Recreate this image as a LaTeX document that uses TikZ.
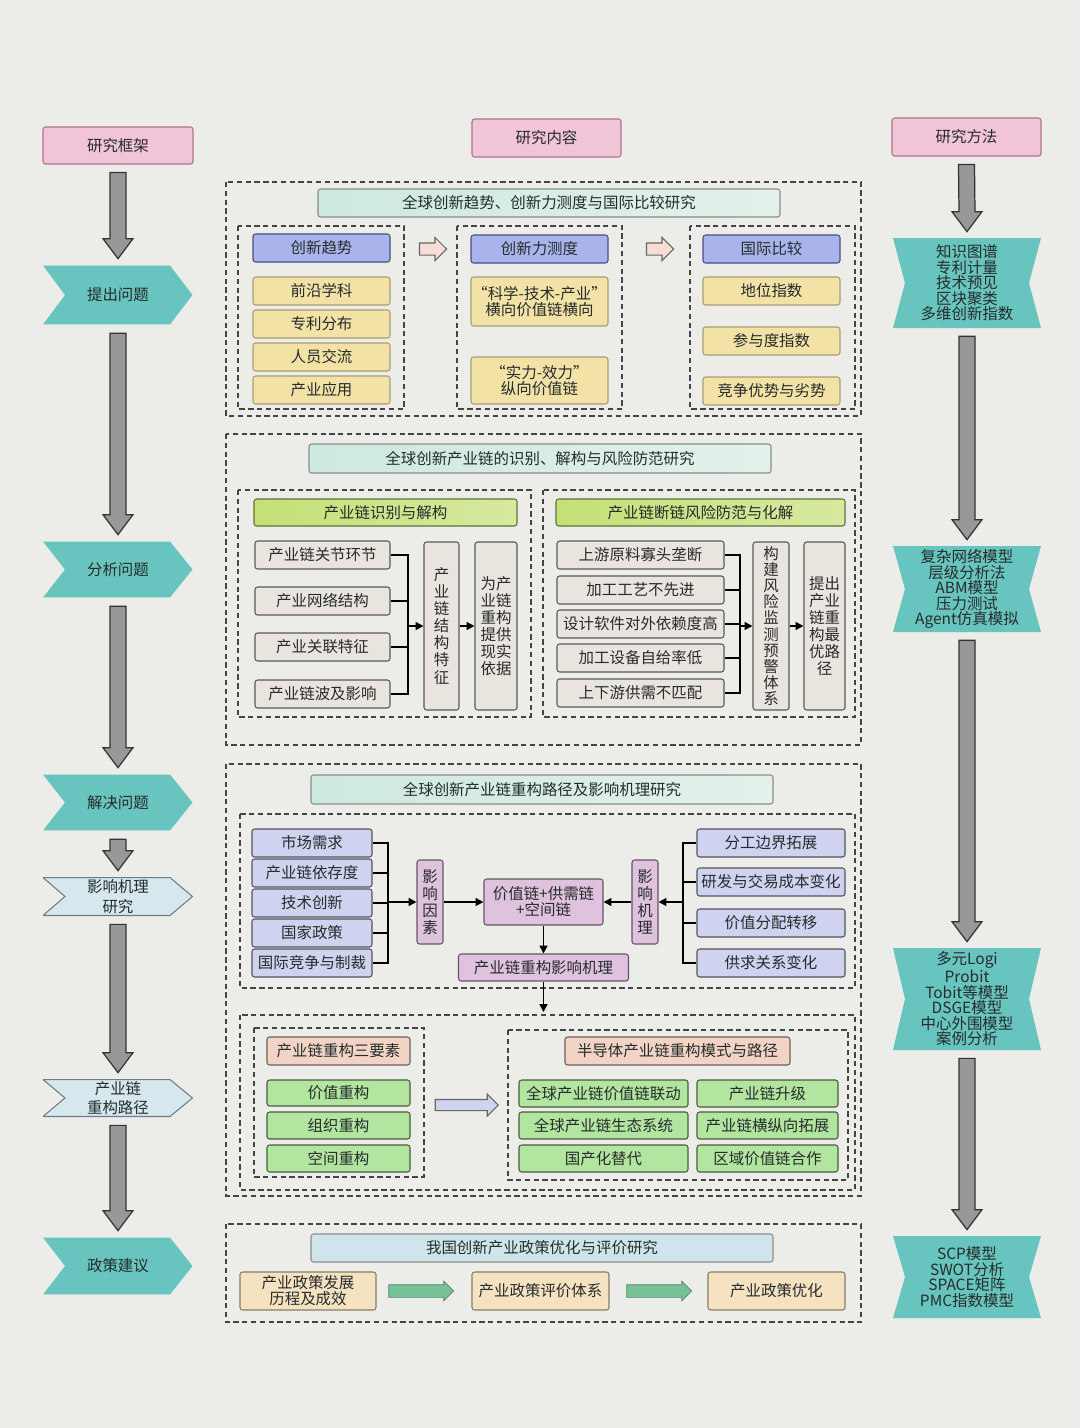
\documentclass[tikz,border=0pt]{standalone}
\usepackage{fontspec}
\setmainfont{Noto Sans CJK SC}
\usetikzlibrary{calc,shapes.arrows,arrows.meta}
\definecolor{bgc}{RGB}{236,236,232}
\definecolor{txtc}{RGB}{38,44,44}
\definecolor{pinkc}{RGB}{241,196,216}
\definecolor{pinkd}{RGB}{175,115,140}
\definecolor{tealc}{RGB}{104,196,190}
\definecolor{ltbluec}{RGB}{214,231,238}
\definecolor{ltblued}{RGB}{110,125,135}
\definecolor{arrowc}{RGB}{152,152,152}
\definecolor{titlel}{RGB}{204,233,224}
\definecolor{titler}{RGB}{228,241,235}
\definecolor{polc}{RGB}{206,229,236}
\definecolor{headc}{RGB}{170,180,236}
\definecolor{yelc}{RGB}{242,226,166}
\definecolor{greenl}{RGB}{196,224,118}
\definecolor{greenr}{RGB}{214,234,160}
\definecolor{grayic}{RGB}{234,228,222}
\definecolor{lavc}{RGB}{207,211,240}
\definecolor{mauvec}{RGB}{222,194,222}
\definecolor{grnc}{RGB}{178,229,160}
\definecolor{salmc}{RGB}{241,212,198}
\definecolor{beigec}{RGB}{245,226,192}
\definecolor{garc}{RGB}{118,194,150}
\definecolor{hollc}{RGB}{246,222,214}
\definecolor{dashc}{RGB}{68,68,68}
% grey block arrow from one node down to the next
\newcommand\grayarrow[2]{%
  \draw[garrow] ($(#1.south)+(-8,8)$) -- ($(#2.north)+(-8,-26)$) -- ++(-7,0)
    -- ($(#2.north)+(0,-6)$) -- ($(#2.north)+(15,-26)$) -- ++(-7,0)
    -- ($(#1.south)+(8,8)$) -- cycle;}
\begin{document}
\begin{tikzpicture}[x=0.02cm,y=-0.02cm,
  font=\fontsize{8.8}{9.2}\selectfont, text=txtc,
  sz/.style 2 args={minimum width=#1*0.02cm, minimum height=#2*0.02cm},
  box/.style={rectangle, rounded corners=1.5pt, inner sep=0pt, align=center, line width=0.6pt},
  pinkbox/.style={box, fill=pinkc, draw=pinkd},
  titlebar/.style={box, left color=titlel, right color=titler, draw=black!45, sz={462}{28}},
  bluehead/.style={box, fill=headc, draw=blue!30!black!70, sz={137}{28}},
  ybox/.style={box, fill=yelc, draw=yelc!70!black},
  greenhead/.style={box, left color=greenl, right color=greenr, draw=greenl!50!black},
  gbox/.style={box, fill=grayic, draw=black!65},
  lbox/.style={box, fill=lavc, draw=lavc!40!black},
  mauvebox/.style={box, fill=mauvec, draw=mauvec!45!black},
  grnbox/.style={box, fill=grnc, draw=grnc!40!black},
  salmbox/.style={box, fill=salmc, draw=salmc!45!black},
  beigebox/.style={box, fill=beigec, draw=beigec!55!black},
  vtext/.style={font=\fontsize{8.8}{9.7}\selectfont},
  dbox/.style={draw=dashc, line width=0.8pt, dash pattern=on 3pt off 2pt},
  garrow/.style={fill=arrowc, draw=black!80, line width=0.7pt},
  bk/.style={draw=black, line width=0.9pt},
  bka/.style={bk, -{Triangle[length=4.5pt,width=4.5pt]}},
  chev/.style={inner sep=0pt, align=center, path picture={
    \path[#1] ([yshift=-0.3pt]path picture bounding box.north west)
      -- ([xshift=-0.46cm,yshift=-0.3pt]path picture bounding box.north east)
      -- ([xshift=-0.3pt]path picture bounding box.east)
      -- ([xshift=-0.46cm,yshift=0.3pt]path picture bounding box.south east)
      -- ([yshift=0.3pt]path picture bounding box.south west)
      -- ([xshift=0.44cm]path picture bounding box.west) -- cycle;}},
  mbox/.style={inner sep=0pt, align=center, font=\fontsize{8.8}{8.8}\selectfont,
    path picture={
    \fill[tealc] (path picture bounding box.north west)
      -- (path picture bounding box.north east)
      -- ([xshift=-0.24cm]path picture bounding box.east)
      -- (path picture bounding box.south east)
      -- (path picture bounding box.south west)
      -- ([xshift=0.24cm]path picture bounding box.west) -- cycle;}},
  harrow/.style={single arrow, fill=hollc, draw=black!60, line width=0.6pt,
    inner sep=0.11cm, single arrow head extend=0.11cm, minimum height=0.54cm},
  larrow/.style={single arrow, fill=lavc, draw=black!60, line width=0.6pt,
    inner sep=0.1cm, single arrow head extend=0.11cm, minimum height=1.26cm},
  gnarrow/.style={single arrow, fill=garc, draw=garc!70!black, line width=0.4pt,
    inner sep=0.12cm, single arrow head extend=0.07cm, minimum height=1.3cm}]

\fill[bgc] (0,0) rectangle (1080,1428);

% left column
\node[pinkbox, sz={150}{37}] (kj) at (118,145.5) {研究框架};
\node[chev={fill=tealc}, sz={150}{60}] (tc) at (118,295) {提出问题};
\node[chev={fill=tealc}, sz={150}{57}] (fx) at (118,569.5) {分析问题};
\node[chev={fill=tealc}, sz={150}{57}] (jj) at (118,802.5) {解决问题};
\node[chev={fill=ltbluec,draw=ltblued,line width=0.6pt}, sz={150}{39},
  font=\fontsize{8.8}{11}\selectfont] (yj) at (118,896.5) {影响机理\\研究};
\node[chev={fill=ltbluec,draw=ltblued,line width=0.6pt}, sz={150}{38},
  font=\fontsize{8.8}{11}\selectfont] (cl) at (118,1098) {产业链\\重构路径};
\node[chev={fill=tealc}, sz={150}{58}] (zj) at (118,1266) {政策建议};
\grayarrow{kj}{tc}
\grayarrow{tc}{fx}
\grayarrow{fx}{jj}
\grayarrow{jj}{yj}
\grayarrow{yj}{cl}
\grayarrow{cl}{zj}

% right column
\node[pinkbox, sz={149}{38}] (ff) at (966.5,137) {研究方法};
\node[mbox, sz={148}{90}] (m1) at (967,283) {知识图谱\\专利计量\\技术预见\\区块聚类\\多维创新指数};
\node[mbox, sz={148}{86}] (m2) at (967,589) {复杂网络模型\\层级分析法\\ABM模型\\压力测试\\Agent仿真模拟};
\node[mbox, sz={148}{102}] (m3) at (967,999) {多元Logi\\Probit\\Tobit等模型\\DSGE模型\\中心外围模型\\案例分析};
\node[mbox, sz={148}{82}] (m4) at (967,1277) {SCP模型\\SWOT分析\\SPACE矩阵\\PMC指数模型};
\grayarrow{ff}{m1}
\grayarrow{m1}{m2}
\grayarrow{m2}{m3}
\grayarrow{m3}{m4}

% research content
\node[pinkbox, sz={149}{38}] (nr) at (546.5,138) {研究内容};

% part 1
\draw[dbox] (226,182) rectangle (861,416);
\node[titlebar] (t1) at (549,203) {全球创新趋势、创新力测度与国际比较研究};
\draw[dbox] (238,226) rectangle (404,409);
\draw[dbox] (457,226) rectangle (622,409);
\draw[dbox] (690,226) rectangle (855,409);
\node[bluehead] (qs) at (321.5,248) {创新趋势};
\node[ybox, sz={137}{28}] (qs1) at (321.5,291) {前沿学科};
\node[ybox, sz={137}{28}] (qs2) at (321.5,324) {专利分布};
\node[ybox, sz={137}{28}] (qs3) at (321.5,357) {人员交流};
\node[ybox, sz={137}{28}] (qs4) at (321.5,390) {产业应用};
\node[harrow] (ha1) at (430,249) {};
\node[bluehead] (cd) at (539.5,249) {创新力测度};
\node[ybox, sz={137}{49}] (cd1) at (539.5,301.5) {“科学-技术-产业”\\横向价值链横向};
\node[ybox, sz={137}{47}] (cd2) at (539.5,380.5) {“实力-效力”\\纵向价值链};
\node[harrow] (ha2) at (657,249) {};
\node[bluehead] (bj) at (771.5,249) {国际比较};
\node[ybox, sz={137}{28}] (bj1) at (771.5,291) {地位指数};
\node[ybox, sz={137}{28}] (bj2) at (771.5,341) {参与度指数};
\node[ybox, sz={137}{28}] (bj3) at (771.5,391) {竞争优势与劣势};

% part 2
\draw[dbox] (226,434) rectangle (861,745);
\node[titlebar, sz={462}{29}] (t2) at (540,458.5) {全球创新产业链的识别、解构与风险防范研究};
\draw[dbox] (238,490) rectangle (531,717);
\draw[dbox] (543,490) rectangle (855,717);
\node[greenhead, sz={263}{27}] (sb) at (385.5,512.5) {产业链识别与解构};
\node[gbox, sz={135}{28}] (sb1) at (322.5,555) {产业链关节环节};
\node[gbox, sz={135}{28}] (sb2) at (322.5,601) {产业网络结构};
\node[gbox, sz={135}{28}] (sb3) at (322.5,647) {产业关联特征};
\node[gbox, sz={135}{28}] (sb4) at (322.5,694) {产业链波及影响};
\node[gbox, vtext, sz={35}{168}] (jg) at (441.5,626) {产\\业\\链\\结\\构\\特\\征};
\node[gbox, vtext, sz={42}{168}] (yj2) at (496,626) {为产\\业链\\重构\\提供\\现实\\依据};
\coordinate (bus1) at (408,626);
\draw[bk] (sb1.east) -| (bus1) (sb2.east) -| (bus1) (sb3.east) -| (bus1) (sb4.east) -| (bus1);
\draw[bka] (bus1) -- (jg);
\draw[bka] (jg) -- (yj2);
\node[greenhead, sz={289}{27}] (fx2) at (700.5,512.5) {产业链断链风险防范与化解};
\node[gbox, sz={167}{28}] (fx21) at (640.5,555) {上游原料寡头垄断};
\node[gbox, sz={167}{28}] (fx22) at (640.5,590) {加工工艺不先进};
\node[gbox, sz={167}{28}] (fx23) at (640.5,624) {设计软件对外依赖度高};
\node[gbox, sz={167}{28}] (fx24) at (640.5,658) {加工设备自给率低};
\node[gbox, sz={167}{28}] (fx25) at (640.5,693) {上下游供需不匹配};
\node[gbox, sz={36}{168}, font=\fontsize{8.8}{9.2}\selectfont] (yj3) at (771,626)
  {构\\建\\风\\险\\监\\测\\预\\警\\体\\系};
\node[gbox, vtext, sz={41}{168}] (lj) at (824.5,626) {提出\\产业\\链重\\构最\\优路\\径};
\coordinate (bus2) at (740,626);
\draw[bk] (fx21.east) -| (bus2) (fx22.east) -| (bus2) (fx23.east) -| (bus2)
  (fx24.east) -| (bus2) (fx25.east) -| (bus2);
\draw[bka] (bus2) -- (yj3);
\draw[bka] (yj3) -- (lj);

% part 3
\draw[dbox] (226,764) rectangle (861,1196);
\node[titlebar, sz={462}{29}] (t3) at (542,789.5) {全球创新产业链重构路径及影响机理研究};
\draw[dbox] (240,814) rectangle (855,988);
\node[lbox, sz={120}{28}] (ys1) at (312,843) {市场需求};
\node[lbox, sz={120}{28}] (ys2) at (312,873) {产业链依存度};
\node[lbox, sz={120}{28}] (ys3) at (312,903) {技术创新};
\node[lbox, sz={120}{28}] (ys4) at (312,933) {国家政策};
\node[lbox, sz={120}{28}] (ys5) at (312,963) {国际竞争与制裁};
\node[mauvebox, vtext, sz={26}{84}] (yx) at (430,902) {影\\响\\因\\素};
\node[mauvebox, sz={119}{46}] (jz) at (543.5,902) {价值链+供需链\\+空间链};
\node[mauvebox, vtext, sz={26}{84}] (jl) at (645,902) {影\\响\\机\\理};
\node[mauvebox, sz={170}{27}] (cj) at (543.5,967.5) {产业链重构影响机理};
\node[lbox, sz={148}{28}] (jl1) at (771,843) {分工边界拓展};
\node[lbox, sz={148}{28}] (jl2) at (771,882) {研发与交易成本变化};
\node[lbox, sz={148}{28}] (jl3) at (771,923) {价值分配转移};
\node[lbox, sz={148}{28}] (jl4) at (771,963) {供求关系变化};
\coordinate (bus3) at (388,902);
\coordinate (bus4) at (683,902);
\draw[bk] (ys1.east) -| (bus3) (ys2.east) -| (bus3) (ys3.east) -| (bus3)
  (ys4.east) -| (bus3) (ys5.east) -| (bus3);
\draw[bk] (jl1.west) -| (bus4) (jl2.west) -| (bus4) (jl3.west) -| (bus4) (jl4.west) -| (bus4);
\draw[bka] (bus3) -- (yx);
\draw[bka] (yx) -- (jz);
\draw[bka] (bus4) -- (jl);
\draw[bka] (jl) -- (jz);
\draw[bka] (jz) -- (cj);
\coordinate (dn) at (543.5,1012);
\draw[bka] (cj) -- (dn);

\draw[dbox] (240,1015) rectangle (855,1190);
\draw[dbox] (254,1028) rectangle (424,1177);
\draw[dbox] (508,1030) rectangle (848,1180);
\node[salmbox, sz={143}{28}] (sy) at (338.5,1051) {产业链重构三要素};
\node[grnbox, sz={143}{26}] (sy1) at (338.5,1093) {价值重构};
\node[grnbox, sz={143}{27}] (sy2) at (338.5,1125.5) {组织重构};
\node[grnbox, sz={143}{27}] (sy3) at (338.5,1158.5) {空间重构};
\node[larrow] (la) at (464,1105) {};
\node[salmbox, sz={225}{28}] (ms) at (677.5,1051) {半导体产业链重构模式与路径};
\node[grnbox, sz={169}{27}] (ms1) at (603.5,1093.5) {全球产业链价值链联动};
\node[grnbox, sz={141}{27}] (ms2) at (767.5,1093.5) {产业链升级};
\node[grnbox, sz={169}{27}] (ms3) at (603.5,1125.5) {全球产业链生态系统};
\node[grnbox, sz={141}{27}] (ms4) at (767.5,1125.5) {产业链横纵向拓展};
\node[grnbox, sz={169}{27}] (ms5) at (603.5,1158.5) {国产化替代};
\node[grnbox, sz={141}{27}] (ms6) at (767.5,1158.5) {区域价值链合作};

% part 4
\draw[dbox] (226,1224) rectangle (861,1322);
\node[titlebar, left color=polc, right color=polc] (t4) at (542,1248) {我国创新产业政策优化与评价研究};
\node[beigebox, sz={136}{38}] (zc1) at (308,1291) {产业政策发展\\历程及成效};
\node[gnarrow] (ga1) at (418,1291) {};
\node[beigebox, sz={137}{38}] (zc2) at (540.5,1291) {产业政策评价体系};
\node[gnarrow] (ga2) at (656,1291) {};
\node[beigebox, sz={137}{38}] (zc3) at (776.5,1291) {产业政策优化};
\end{tikzpicture}
\end{document}
